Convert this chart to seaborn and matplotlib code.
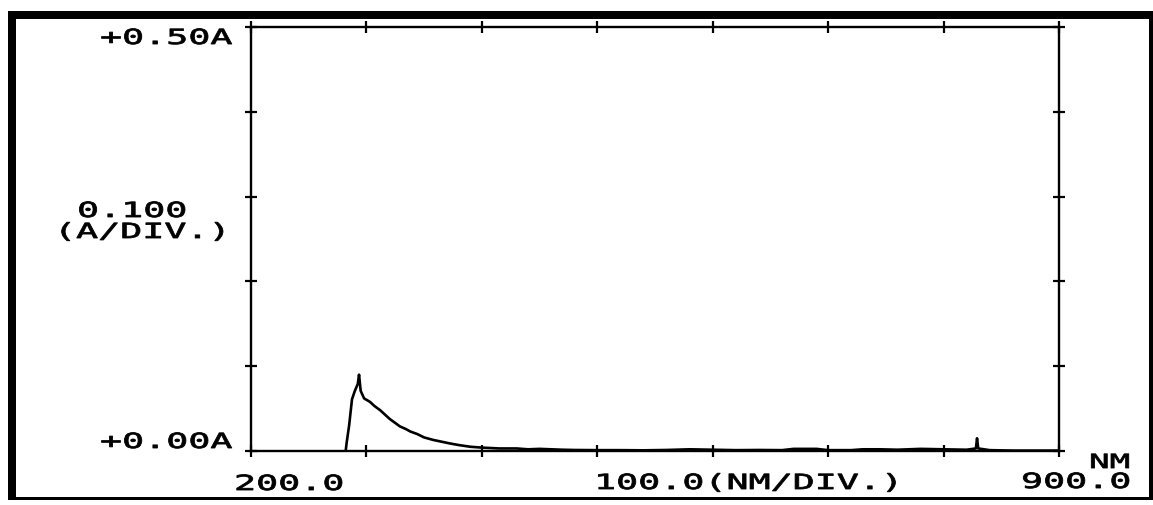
import numpy as np
import pandas as pd
import matplotlib
matplotlib.use("Agg")
import matplotlib.pyplot as plt
import seaborn as sns
from matplotlib.patheffects import AbstractPathEffect
from matplotlib.transforms import Affine2D
from matplotlib.patches import Rectangle

# ---------------- data ----------------
wavelength = [282.0, 283.0, 285.0, 287.5, 290.0, 292.5, 293.6, 295.0, 298.0, 303.0,
              307.0, 312.0, 316.0, 320.0, 325.0, 329.0, 334.0, 338.0, 344.0, 350.0,
              358.0, 365.0, 372.0, 380.0, 390.0, 400.0, 415.0, 430.0, 440.0, 450.0,
              460.0, 470.0, 480.0, 500.0, 520.0, 540.0, 560.0, 580.0, 600.0, 620.0,
              640.0, 660.0, 670.0, 690.0, 700.0, 720.0, 730.0, 745.0, 760.0, 780.0,
              800.0, 820.0, 828.0, 829.0, 830.0, 840.0, 860.0, 880.0, 900.0]
absorbance = [0.000, 0.011, 0.030, 0.061, 0.071, 0.079, 0.090, 0.071, 0.062, 0.058,
              0.053, 0.048, 0.043, 0.038, 0.033, 0.029, 0.026, 0.023, 0.020, 0.016,
              0.013, 0.011, 0.009, 0.007, 0.005, 0.004, 0.003, 0.003, 0.002, 0.0025,
              0.002, 0.0015, 0.0012, 0.001, 0.001, 0.0008, 0.0012, 0.002, 0.0015, 0.001,
              0.0012, 0.001, 0.0025, 0.0025, 0.001, 0.001, 0.002, 0.002, 0.0015, 0.0025,
              0.002, 0.0015, 0.003, 0.015, 0.003, 0.001, 0.0005, 0.0005, 0.0005]

x_ticks = [200, 300, 400, 500, 600, 700, 800, 900]
y_ticks = [0.0, 0.1, 0.2, 0.3, 0.4, 0.5]

y_top_label = "+0.50A"
y_bottom_label = "+0.00A"
y_scale_label = "0.100"
y_unit_label = "(A/DIV.)"
x_left_label = "200.0"
x_scale_label = "100.0(NM/DIV.)"
x_right_label = "900.0"
x_unit_label = "NM"

# ---------------- figure ----------------
W, H = 1153, 506
sns.set_theme(style="white")
plt.rcParams['font.family'] = ['DejaVu Sans Mono', 'DejaVu Sans']

fig = plt.figure(figsize=(W / 100, H / 100), dpi=100)
fig.patch.set_facecolor("white")

ax = fig.add_axes([251 / W, 1 - 452 / H, (1059 - 251) / W, (452 - 28) / H])
df = pd.DataFrame({"nm": wavelength, "A": absorbance})
sns.lineplot(data=df, x="nm", y="A", ax=ax, color="black", linewidth=1.9,
             legend=False)

ax.set_xlim(200, 900)
ax.set_ylim(0, 0.5)
ax.set_xticks(x_ticks)
ax.set_yticks(y_ticks)
ax.set_xlabel("")
ax.set_ylabel("")
ax.tick_params(direction="inout", length=9, width=1.6, color="black",
               top=True, right=True, bottom=True, left=True,
               labelbottom=False, labelleft=False)
for s in ax.spines.values():
    s.set_visible(True)
    s.set_color("black")
    s.set_linewidth(1.7)
ax.set_facecolor("white")
ax.grid(False)


class Stretch(AbstractPathEffect):
    """Widen glyphs horizontally (dot-matrix printer look) and thicken strokes."""

    def __init__(self, sx, stroke=0.6):
        super().__init__()
        self.sx = sx
        self.stroke = stroke

    def draw_path(self, renderer, gc, tpath, affine, rgbFace=None):
        gc0 = renderer.new_gc()
        gc0.copy_properties(gc)
        gc0.set_linewidth(self.stroke)
        gc0.set_foreground("black")
        renderer.draw_path(gc0, tpath, Affine2D().scale(self.sx, 1.0) + affine, rgbFace)
        gc0.restore()


FS = 15
SX = 1.76


def ptext(x_px, y_px, s, fs=FS):
    fig.text(x_px / W, 1 - y_px / H, s, ha="left", va="baseline", fontsize=fs,
             family=["DejaVu Sans Mono"], color="black", fontweight="normal",
             path_effects=[Stretch(SX)])


ptext(100, 45, y_top_label)
ptext(100, 449, y_bottom_label)
ptext(77, 218, y_scale_label)
ptext(54, 239, y_unit_label)
ptext(234, 491, x_left_label)
ptext(594, 490, x_scale_label)
ptext(1021, 489, x_right_label)
ptext(1089, 469, x_unit_label, fs=14)

# scanned-page frame
frame = dict(transform=fig.transFigure, color="black", lw=0, zorder=10)
fig.patches.append(Rectangle((8 / W, 1 - 20 / H), (W - 8) / W, 8 / H, **frame))
fig.patches.append(Rectangle((8 / W, 1 - 501 / H), 8 / W, (501 - 12) / H, **frame))
fig.patches.append(Rectangle((8 / W, 1 - 501 / H), (W - 8) / W, 3 / H, **frame))
fig.patches.append(Rectangle((1149 / W, 1 - 501 / H), 4 / W, (501 - 12) / H, **frame))

fig.savefig("out.png", dpi=100, facecolor="white")
